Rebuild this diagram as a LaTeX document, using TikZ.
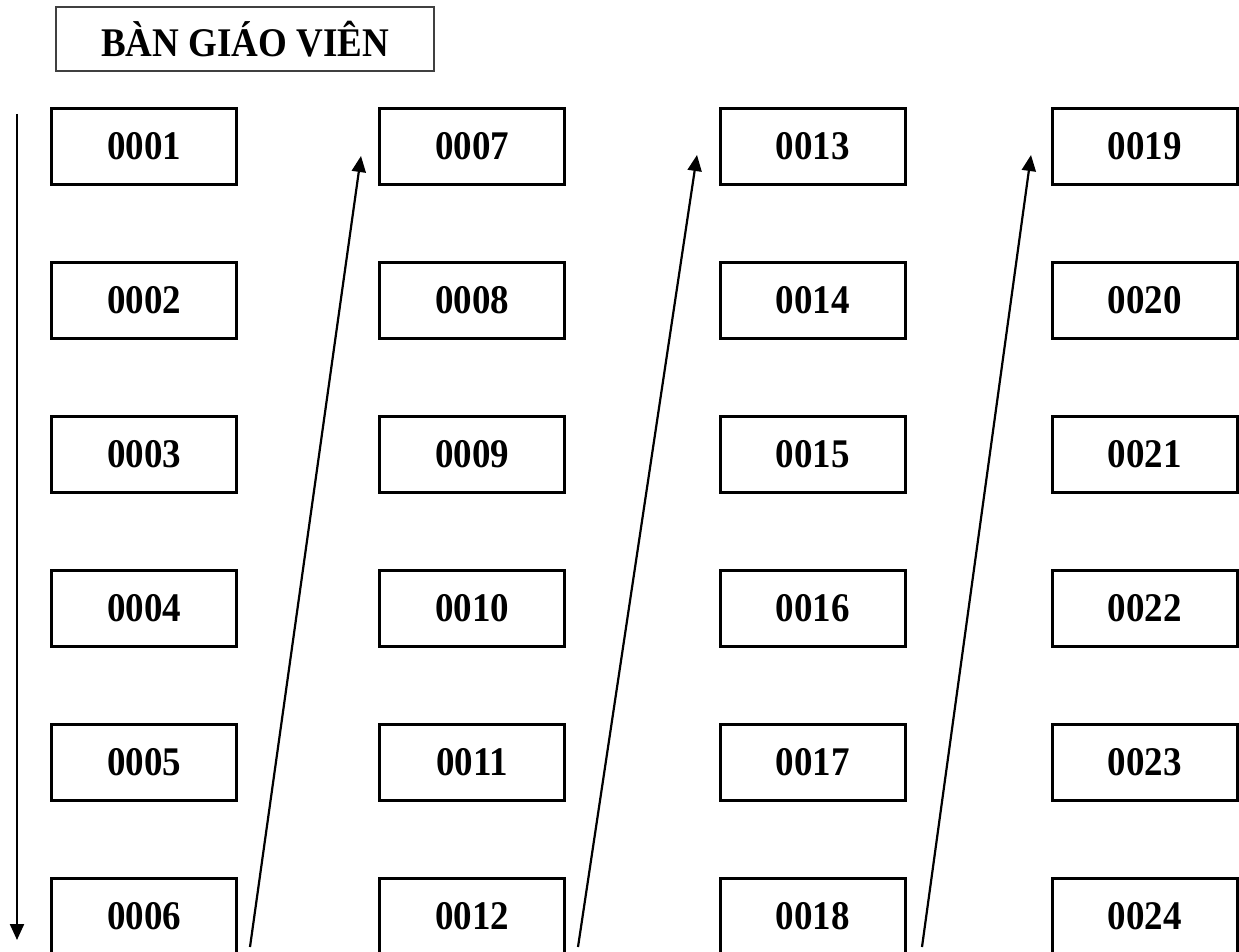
\documentclass[tikz,border=0pt]{standalone}
\usepackage{fontspec}
\usepackage{graphicx}
\setmainfont{Liberation Serif}
\usetikzlibrary{arrows.meta}
\newcommand{\tallt}[1]{\scalebox{1}[1.1]{#1}}
\begin{document}
\begin{tikzpicture}[x=1pt,y=-1pt,
  seat/.style={draw, line width=3pt, minimum width=185pt, minimum height=76pt, inner sep=0pt,
    font=\fontsize{37}{40}\selectfont\bfseries},
  titlebox/.style={draw=black!75, line width=1.3pt, minimum width=378pt, minimum height=64pt, inner sep=0pt,
    font=\fontsize{37}{40}\selectfont\bfseries},
  flow/.style={line width=2.2pt, -{Triangle[width=14pt,length=16pt]}}]
\useasboundingbox (0,0) rectangle (1239,952);
\node[titlebox] (title) at (245,39) {\tallt{BÀN GIÁO VIÊN}};
\foreach \c/\x in {0/144,1/472,2/812.5,3/1144.5}{
  \foreach \r/\y in {1/146.5,2/300.5,3/454.5,4/608.5,5/762.5,6/916.5}{
    \pgfmathtruncatemacro{\n}{\c*6+\r}
    \node[seat] (s\n) at (\x,\y) {\tallt{\ifnum\n<10 000\n\else 00\n\fi}};
  }
}
\coordinate (a0) at (17,114);
\coordinate (b0) at (17,940);
\coordinate (a1) at (250,947);
\coordinate (b1) at (361,156);
\coordinate (a2) at (578,947);
\coordinate (b2) at (697,155);
\coordinate (a3) at (922,947);
\coordinate (b3) at (1031,155);
\draw[flow] (a0) -- (b0);
\draw[flow] (a1) -- (b1);
\draw[flow] (a2) -- (b2);
\draw[flow] (a3) -- (b3);
\end{tikzpicture}
\end{document}
